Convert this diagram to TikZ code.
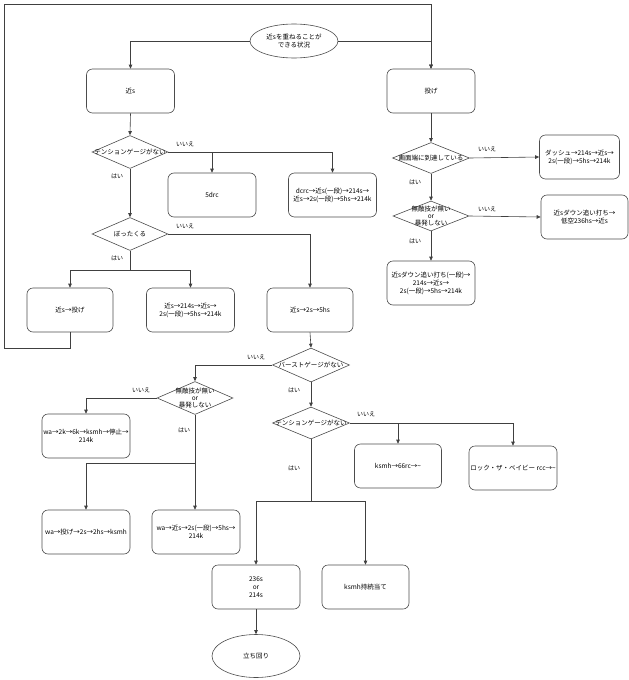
\documentclass[tikz,border=0pt]{standalone}
\usepackage{fontspec}
\setmainfont{Noto Sans CJK JP}
\usetikzlibrary{shapes.geometric, arrows.meta}

\begin{document}
\begin{tikzpicture}[
    x=1pt, y=-1pt,
    font=\fontsize{6.5}{8}\selectfont,
    proc/.style={draw=black!70, line width=0.6pt, rounded corners=6pt, minimum width=88pt, minimum height=44pt, align=center, inner sep=1pt},
    decision/.style={draw=black!70, line width=0.6pt, diamond, minimum width=76pt, minimum height=33pt, inner sep=0pt},
    dtext/.style={align=center, inner sep=0pt, font=\fontsize{6.5}{7}\selectfont},
    terminal/.style={draw=black!70, line width=0.6pt, ellipse, minimum width=88pt, minimum height=34pt, align=center, inner sep=0pt},
    lbl/.style={inner sep=0pt, font=\fontsize{6}{7}\selectfont},
    arrow/.style={-{Triangle[length=4pt, width=3.5pt]}, black!75, line width=0.6pt}
]
    \useasboundingbox (0,0) rectangle (629,680);

    % top
    \node[terminal] (start) at (294,41) {近sを重ねることが\\できる状況};
    \node[proc] (chika) at (130.5,91) {近s};
    \node[proc] (nage) at (431,91) {投げ};

    % left branch
    \node[decision] (d1) at (130,152) {};
    \node[dtext] (d1t) at (d1) {テンションゲージがない};
    \node[proc] (drc) at (212,195) {5drc};
    \node[proc] (dcrc) at (332.5,195) {dcrc→近s(一段)→214s→\\近s→2s(一段)→5hs→214k};

    \node[decision] (d2) at (130,234) {};
    \node[dtext] (d2t) at (d2) {ぼったくる};
    \node[proc, minimum width=86pt] (b1) at (70,310) {近s→投げ};
    \node[proc] (b2) at (190.5,310) {近s→214s→近s→\\2s(一段)→5hs→214k};
    \node[proc, minimum width=86pt] (b3) at (310,310) {近s→2s→5hs};

    % right branch
    \node[decision, minimum width=77pt, minimum height=31pt] (d3) at (431,158) {};
    \node[dtext] (d3t) at (d3) {画面端に到達している};
    \node[proc, minimum width=80pt] (dash) at (579.5,157) {ダッシュ→214s→近s→\\2s(一段)→5hs→214k};
    \node[decision, minimum height=30pt] (d4) at (431,216) {};
    \node[dtext] (d4t) at (d4) {無敵技が無い\\or\\暴発しない};
    \node[proc, minimum width=87pt] (down1) at (584.5,217) {近sダウン追い打ち→\\低空236hs→近s};
    \node[proc] (down2) at (431,283) {近sダウン追い打ち(一段)→\\214s→近s→\\2s(一段)→5hs→214k};

    % lower part
    \node[decision, minimum width=77pt, minimum height=34pt] (d5) at (311,365) {};
    \node[dtext] (d5t) at (d5) {バーストゲージがない};
    \node[decision] (d6) at (195,398) {};
    \node[dtext] (d6t) at (d6) {無敵技が無い\\or\\暴発しない};
    \node[proc] (w1) at (86,436) {wa→2k→6k→ksmh→停止→\\214k};
    \node[proc] (w2) at (86,532) {wa→投げ→2s→2hs→ksmh};
    \node[proc] (w3) at (196,532) {wa→近s→2s(一段)→5hs→\\214k};

    \node[decision, minimum width=77pt, minimum height=32pt] (d7) at (311,423) {};
    \node[dtext] (d7t) at (d7) {テンションゲージがない};
    \node[proc, minimum width=87pt] (ksmh) at (398,466) {ksmh→66rc→\textasciitilde};
    \node[proc] (rock) at (513,468) {ロック・ザ・ベイビー rcc→\textasciitilde};
    \node[proc] (c236) at (256,587) {236s\\or\\214s};
    \node[proc, minimum width=87pt] (ksmhc) at (365.5,587) {ksmh持続当て};
    \node[terminal, minimum height=43pt] (goal) at (256,656) {立ち回り};

    \coordinate (loopl) at (4,348);
    \coordinate (loopt) at (4,4);

    % connectors
    \draw[arrow] (start.west) -| (chika.north);
    \draw[arrow] (start.east) -| (nage.north);
    \draw[arrow] (b1.south) |- (loopl) -- (loopt) -| (nage.north);

    \draw[arrow] (chika.south) -- (d1.north);
    \draw[arrow] (d1.east) -| (drc.north);
    \draw[arrow] (d1.east) -| (dcrc.north);
    \draw[arrow] (d1.south) -- (d2.north);
    \draw[arrow] (d2.east) -| (b3.north);
    \draw[arrow] (d2.south) -- ++(0,19) -| (b1.north);
    \draw[arrow] (d2.south) -- ++(0,19) -| (b2.north);

    \draw[arrow] (nage.south) -- (d3.north);
    \draw[arrow] (d3.east) -- (dash.west);
    \draw[arrow] (d3.south) -- (d4.north);
    \draw[arrow] (d4.east) -- (down1.west);
    \draw[arrow] (d4.south) -- (down2.north);

    \draw[arrow] (b3.south) -- (d5.north);
    \draw[arrow] (d5.west) -| (d6.north);
    \draw[arrow] (d5.south) -- (d7.north);
    \draw[arrow] (d6.west) -| (w1.north);
    \draw[arrow] (d6.south) -- (d6.south |- w3.north);
    \draw[arrow] (d6.south) -- ++(0,48) -| (w2.north);
    \draw[arrow] (d7.east) -| (rock.north);
    \draw[arrow] (d7.east) -| (ksmh.north);
    \draw[arrow] (d7.south) -- ++(0,62) -| (c236.north);
    \draw[arrow] (d7.south) -- ++(0,62) -| (ksmhc.north);
    \draw[arrow] (c236.south) -- (goal.north);

    % branch labels
    \node[lbl] (n1) at (185,144) {いいえ};
    \node[lbl] (y1) at (117,176) {はい};
    \node[lbl] (n2) at (185,226) {いいえ};
    \node[lbl] (y2) at (117,258) {はい};
    \node[lbl] (n3) at (487,149) {いいえ};
    \node[lbl] (y3) at (415,182) {はい};
    \node[lbl] (n4) at (487,209) {いいえ};
    \node[lbl] (y4) at (415,241) {はい};
    \node[lbl] (n5) at (256,357) {いいえ};
    \node[lbl] (y5) at (294,390) {はい};
    \node[lbl] (n6) at (141,390) {いいえ};
    \node[lbl] (y6) at (184,430) {はい};
    \node[lbl] (n7) at (366,414) {いいえ};
    \node[lbl] (y7) at (294,468) {はい};
\end{tikzpicture}
\end{document}
